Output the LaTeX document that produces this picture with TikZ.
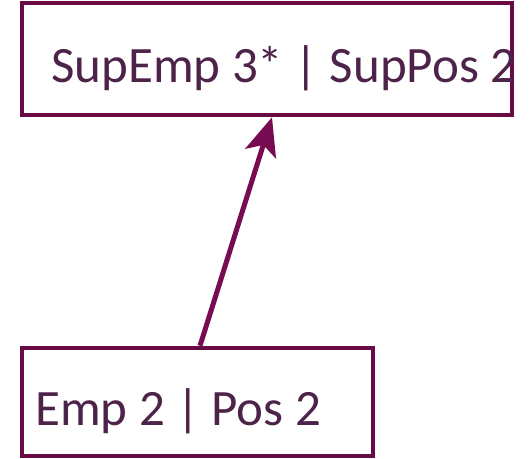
\documentclass[tikz,border=0pt]{standalone}
\usepackage{fontspec}
\setmainfont{Carlito}
\usetikzlibrary{arrows.meta, positioning}
\definecolor{boxline}{HTML}{6A0A44}
\definecolor{arrline}{HTML}{780C52}
\definecolor{boxtext}{HTML}{4E2349}

\begin{document}
\begin{tikzpicture}[x=1pt, y=-1pt, box/.style={rectangle, draw=boxline, line width=4.5pt, inner sep=0pt}, lbl/.style={inner sep=0pt, anchor=base west, text=boxtext, font=\fontsize{51}{60}\selectfont}]
	\useasboundingbox (0,0) rectangle (530,458);
	\node[box, minimum width=490pt, minimum height=112pt] (sup) at (267,59) {};
	\node[box, minimum width=351pt, minimum height=108pt] (emp) at (197.5,402) {};
	\node[lbl] (suptxt) at (51,82) {SupEmp 3* | SupPos 2};
	\node[lbl] (emptxt) at (35,425) {Emp 2 | Pos 2};
	\draw[arrline, line width=5pt, -{Stealth[length=38pt, width=32pt, inset=9pt]}] ([xshift=2.5pt]emp.north) -- ([xshift=5pt]sup.south);
\end{tikzpicture}
\end{document}
